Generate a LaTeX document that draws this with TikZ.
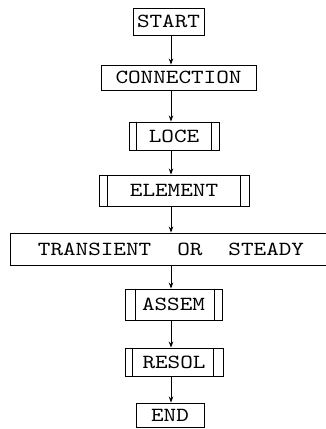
\documentclass[tikz,border=0pt]{standalone}
\usepackage{fontspec}
\newfontfamily\twfont[FakeStretch=1.2]{lmmono10-regular.otf}
\usetikzlibrary{arrows.meta}
\begin{document}
\begin{tikzpicture}[x=1pt,y=-1pt,
  box/.style={draw, line width=0.9pt, inner sep=0pt, anchor=center,
    font=\twfont\fontsize{20}{20}\selectfont},
  arr/.style={line width=0.9pt, -{Stealth[length=6pt,width=4.5pt]}},
  inner/.style={line width=0.9pt}]
\useasboundingbox (0,0) rectangle (325,429);
\coordinate (spine) at (171,0);
\node[box, minimum width=71pt, minimum height=27pt] (start) at (168.5,21.5) {START};
\node[box, minimum width=155pt, minimum height=25pt] (conn) at (178.5,77.5) {CONNECTION};
\node[box, minimum width=90pt, minimum height=28pt] (loce) at (174,136) {LOCE};
\node[box, minimum width=150pt, minimum height=31pt] (elem) at (174,190.5) {ELEMENT};
\node[box, minimum width=322pt, minimum height=32pt] (trans) at (171,249) {TRANSIENT\hspace{1.3em}OR\hspace{1.3em}STEADY};
\node[box, minimum width=97pt, minimum height=31pt] (assem) at (173.5,304.5) {ASSEM};
\node[box, minimum width=98pt, minimum height=28pt] (resol) at (174,362) {RESOL};
\node[box, minimum width=68pt, minimum height=24pt] (end) at (170,415) {END};
% inner vertical lines of the double-sided boxes
\draw[inner] ([xshift=8pt]loce.north west) -- ([xshift=8pt]loce.south west);
\draw[inner] ([xshift=-8pt]loce.north east) -- ([xshift=-8pt]loce.south east);
\draw[inner] ([xshift=9pt]elem.north west) -- ([xshift=9pt]elem.south west);
\draw[inner] ([xshift=-9pt]elem.north east) -- ([xshift=-9pt]elem.south east);
\draw[inner] ([xshift=11pt]assem.north west) -- ([xshift=11pt]assem.south west);
\draw[inner] ([xshift=-8pt]assem.north east) -- ([xshift=-8pt]assem.south east);
\draw[inner] ([xshift=8pt]resol.north west) -- ([xshift=8pt]resol.south west);
\draw[inner] ([xshift=-10pt]resol.north east) -- ([xshift=-10pt]resol.south east);
% connectors
\draw[arr] (start.south -| spine) -- (conn.north -| spine);
\draw[arr] (conn.south -| spine) -- (loce.north -| spine);
\draw[arr] (loce.south -| spine) -- (elem.north -| spine);
\draw[arr] (elem.south -| spine) -- (trans.north -| spine);
\draw[arr] (trans.south -| spine) -- (assem.north -| spine);
\draw[arr] (assem.south -| spine) -- (resol.north -| spine);
\draw[arr] (resol.south -| spine) -- (end.north -| spine);
\end{tikzpicture}
\end{document}
